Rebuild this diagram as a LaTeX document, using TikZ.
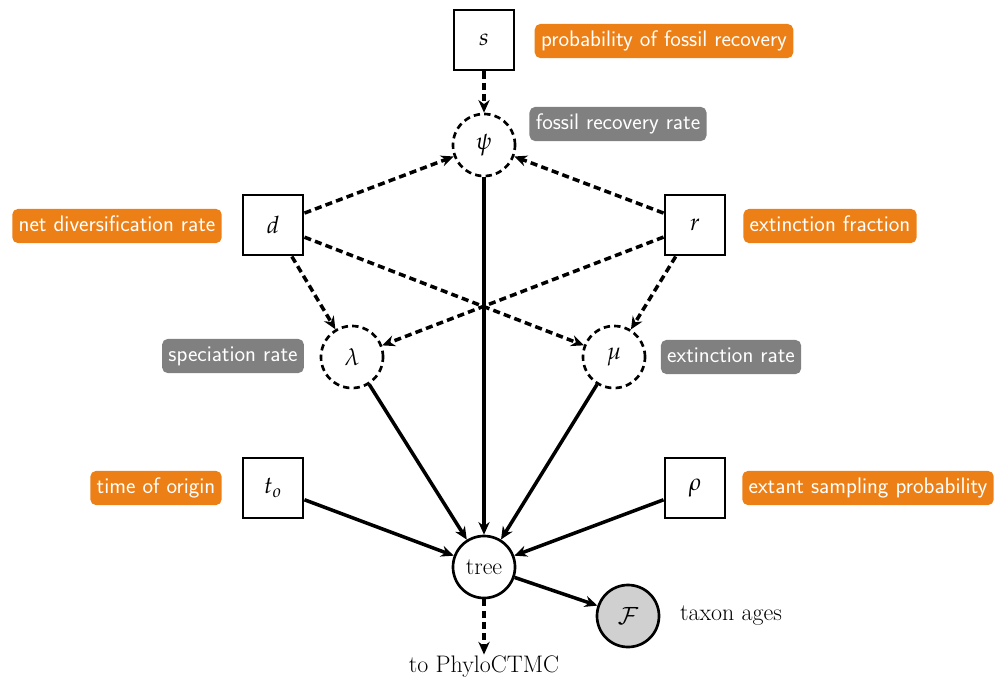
\documentclass[tikz,border=0pt]{standalone}
\usepackage{mathpazo}
\usetikzlibrary{arrows.meta}

\definecolor{labelorange}{RGB}{236,128,22}
\definecolor{labelgray}{RGB}{128,128,128}
\definecolor{obsgray}{RGB}{208,208,208}

\begin{document}
\begin{tikzpicture}[x=0.025cm,y=-0.025cm,
  font=\fontsize{17}{20}\selectfont,
  constnode/.style={draw,line width=2.1pt,minimum size=1.5cm,inner sep=0pt},
  stochnode/.style={draw,circle,line width=1.9pt,minimum size=1.55cm,inner sep=0pt},
  determnode/.style={stochnode,dash pattern=on 4.5pt off 3pt},
  clampnode/.style={stochnode,fill=obsgray},
  orangelabel/.style={fill=labelorange,text=white,rounded corners=4pt,
    inner xsep=4.5pt,inner ysep=4.5pt,text height=11.5pt,text depth=3.8pt,
    font=\sffamily\fontsize{16}{19}\selectfont},
  graylabel/.style={orangelabel,fill=labelgray},
  edge/.style={-{Stealth[length=9pt,width=8pt]},line width=2.5pt},
  dedge/.style={edge,dash pattern=on 5pt off 3pt}]
  \useasboundingbox (0,0) rectangle (998,680);

  % parameters
  \node[constnode] (s) at (484,40) {$s$};
  \node[determnode] (psi) at (484,145) {$\psi$};
  \node[constnode] (d) at (273,225) {$d$};
  \node[constnode] (r) at (695,225) {$r$};
  \node[determnode] (lambda) at (352,357) {$\lambda$};
  \node[determnode] (mu) at (614,357) {$\mu$};
  \node[constnode] (torigin) at (273,488) {$t_o$};
  \node[constnode] (rho) at (695,488) {$\rho$};
  \node[stochnode] (tree) at (484,567) {tree};
  \node[clampnode] (taxa) at (628,616) {$\mathcal{F}$};
  \node[inner sep=1pt] (phylo) at (484,667) {to PhyloCTMC};
  \node (ages) at (731,616) {taxon ages};

  % labels
  \node[orangelabel] (slab) at (664,41) {probability of fossil recovery};
  \node[graylabel] (psilab) at (618,124) {fossil recovery rate};
  \node[orangelabel] (dlab) at (117,226) {net diversification rate};
  \node[orangelabel] (rlab) at (830,226) {extinction fraction};
  \node[graylabel] (lambdalab) at (233,356) {speciation rate};
  \node[graylabel] (mulab) at (731,357) {extinction rate};
  \node[orangelabel] (tlab) at (156,488) {time of origin};
  \node[orangelabel] (rholab) at (868,488) {extant sampling probability};

  % edges
  \draw[dedge] (s) to (psi);
  \draw[dedge] (d) to (psi);
  \draw[dedge] (r) to (psi);
  \draw[dedge] (d) to (lambda);
  \draw[dedge] (d) to (mu);
  \draw[dedge] (r) to (lambda);
  \draw[dedge] (r) to (mu);

  \draw[edge] (psi) to (tree);
  \draw[edge] (lambda) to (tree);
  \draw[edge] (mu) to (tree);
  \draw[edge] (torigin) to (tree);
  \draw[edge] (rho) to (tree);
  \draw[edge] (tree) to (taxa);
  \draw[dedge] (tree) to (phylo);

\end{tikzpicture}
\end{document}
